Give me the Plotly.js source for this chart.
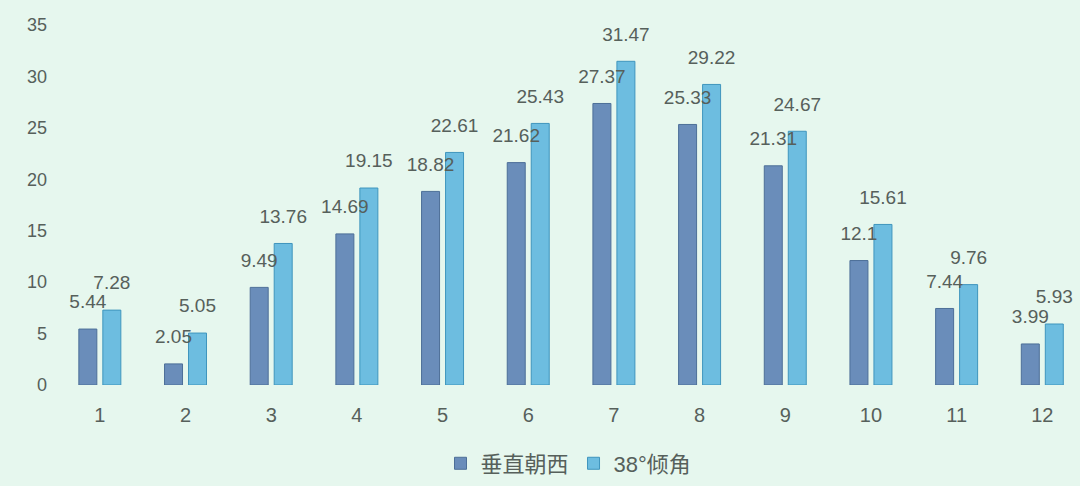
<!DOCTYPE html>
<html>
<head>
<meta charset="utf-8">
<script src="https://cdn.plot.ly/plotly-3.0.1.min.js"></script>
<style>
  html, body { margin: 0; padding: 0; background: #e6f7ee; }
  #chart { width: 1080px; height: 486px; }
</style>
</head>
<body>
<div id="chart"></div>
<script>
// monthly values
var months = [1, 2, 3, 4, 5, 6, 7, 8, 9, 10, 11, 12];
var westVertical = [5.44, 2.05, 9.49, 14.69, 18.82, 21.62, 27.37, 25.33, 21.31, 12.1, 7.44, 3.99];
var tilt38 = [7.28, 5.05, 13.76, 19.15, 22.61, 25.43, 31.47, 29.22, 24.67, 15.61, 9.76, 5.93];
var seriesNames = ['垂直朝西', '38°倾角'];

var textColor = '#56605b';
var fontFamily = '"Liberation Sans", Arial, "Noto Sans CJK SC", sans-serif';

var barWest = {
    x: months,
    y: westVertical,
    type: 'bar',
    name: seriesNames[0],
    marker: { color: '#6a8dba', line: { color: '#4d6f98', width: 1 } },
    hoverinfo: 'none'
};

var barTilt = {
    x: months,
    y: tilt38,
    type: 'bar',
    name: seriesNames[1],
    marker: { color: '#6dbde0', line: { color: '#3f95bd', width: 1 } },
    hoverinfo: 'none'
};

// value labels sit a bit above each bar (invisible marker pushes the text up)
function labelTrace(values, shift) {
    return {
        x: months.map(function (m) { return m + shift; }),
        y: values,
        mode: 'markers+text',
        type: 'scatter',
        marker: { size: 24, opacity: 0 },
        text: values.map(function (v) { return String(v); }),
        textposition: 'top center',
        textfont: { size: 19, color: textColor, family: fontFamily },
        showlegend: false,
        hoverinfo: 'none',
        cliponaxis: false
    };
}

var data = [barWest, barTilt, labelTrace(westVertical, -0.14), labelTrace(tilt38, 0.14)];

var layout = {
    width: 1080,
    height: 486,
    paper_bgcolor: '#e6f7ee',
    plot_bgcolor: '#e6f7ee',
    margin: { l: 57, r: 0, t: 25, b: 101 },
    barmode: 'group',
    bargap: 0.44,
    bargroupgap: 0.25,
    font: { family: fontFamily, color: textColor },
    xaxis: {
        range: [0.5, 12.44],
        tickmode: 'array',
        tickvals: months,
        ticktext: months.map(String),
        showgrid: false,
        zeroline: false,
        showline: false,
        ticks: '',
        tickfont: { size: 20, color: textColor },
        ticklabelstandoff: 16
    },
    yaxis: {
        range: [0, 35],
        dtick: 5,
        showgrid: false,
        zeroline: false,
        showline: false,
        ticks: '',
        tickfont: { size: 18, color: textColor },
        ticklabelstandoff: 9
    },
    legend: {
        orientation: 'h',
        x: 0.5,
        xanchor: 'center',
        y: -0.218,
        yanchor: 'middle',
        font: { size: 22, color: textColor, family: fontFamily },
        itemwidth: 30,
        tracegroupgap: 0,
        traceorder: 'normal'
    },
    showlegend: true
};

Plotly.newPlot(document.getElementById('chart'), data, layout, { displayModeBar: false, staticPlot: true });
</script>
</body>
</html>
